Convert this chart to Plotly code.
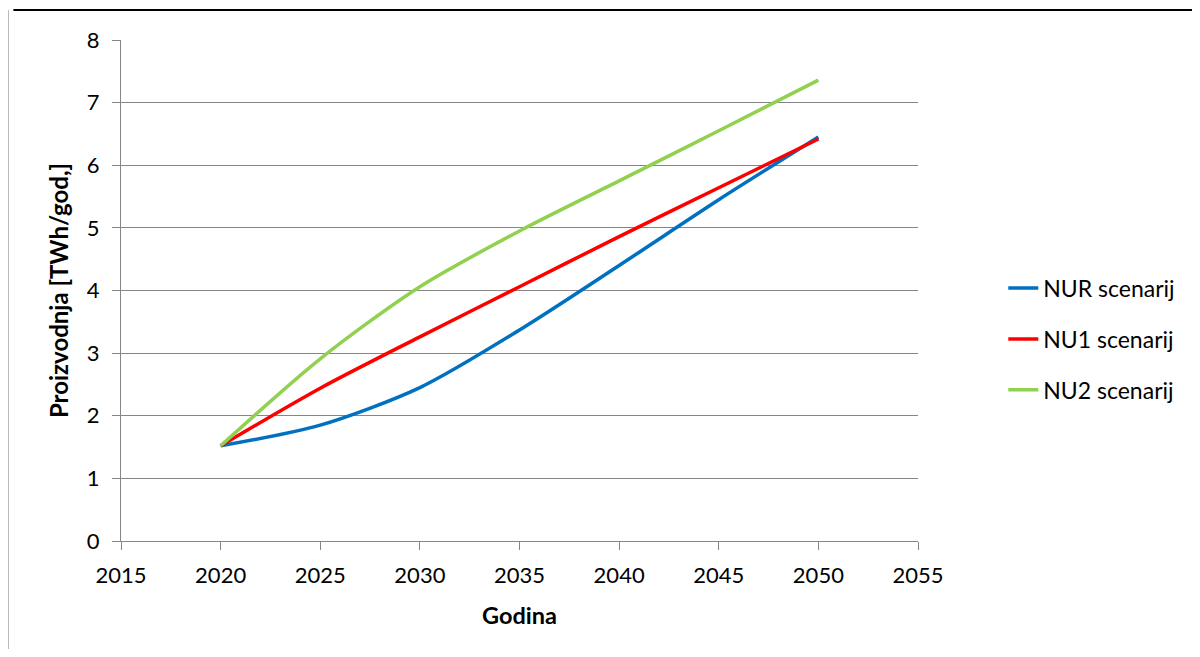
import plotly.graph_objects as go

years = [2020, 2025, 2030, 2035, 2040, 2045, 2050]
nur = [1.52, 1.85, 2.45, 3.37, 4.40, 5.45, 6.45]
nu1 = [1.52, 2.44, 3.26, 4.06, 4.86, 5.64, 6.42]
nu2 = [1.52, 2.91, 4.06, 4.95, 5.75, 6.55, 7.36]

series = [("NUR scenarij", nur, "#0070C0"), ("NU1 scenarij", nu1, "#FF0000"), ("NU2 scenarij", nu2, "#92D050")]

fig = go.Figure()
for i, (name, vals, col) in enumerate(series):
    fig.add_trace(go.Scatter(x=years, y=vals, name=name, mode="lines", legendgroup=f"g{i}",
                             line=dict(color=col, width=3.5, shape="spline", smoothing=0.8)))

font = "Lato, 'Open Sans', sans-serif"
fig.update_layout(
    width=1184, height=641,
    margin=dict(l=113, r=274, t=32, b=108, autoexpand=False),
    plot_bgcolor="white", paper_bgcolor="white",
    font=dict(family=font, size=22, color="black"),
    showlegend=True,
    legend=dict(x=1.107, y=0.403, xanchor="left", yanchor="middle",
                font=dict(size=23), tracegroupgap=18),
    xaxis=dict(range=[2015, 2055], tick0=2015, dtick=5, showgrid=False,
               showline=True, linecolor="#868686", linewidth=1,
               ticks="outside", ticklen=8, tickcolor="#868686", ticklabelstandoff=7,
               title=dict(text="<b>Godina</b>", font=dict(size=23.5), standoff=20),
               zeroline=False),
    yaxis=dict(range=[0, 8], dtick=1, showgrid=True, gridcolor="#868686", gridwidth=1,
               showline=True, linecolor="#868686", linewidth=1,
               ticks="outside", ticklen=8, tickcolor="#868686", ticklabelstandoff=8,
               title=dict(text="<b>Proizvodnja [TWh/god,]</b>", font=dict(size=24), standoff=11),
               zeroline=False),
)
fig.add_shape(type="line", xref="paper", yref="paper", x0=-0.135, x1=1.4, y0=1.0599, y1=1.0599,
              line=dict(color="black", width=2))
fig.add_shape(type="line", xref="paper", yref="paper", x0=-0.1418, x1=-0.1418, y0=1.0599, y1=-0.25,
              line=dict(color="#A0A0A0", width=1.5))

fig.write_html("out.html")
